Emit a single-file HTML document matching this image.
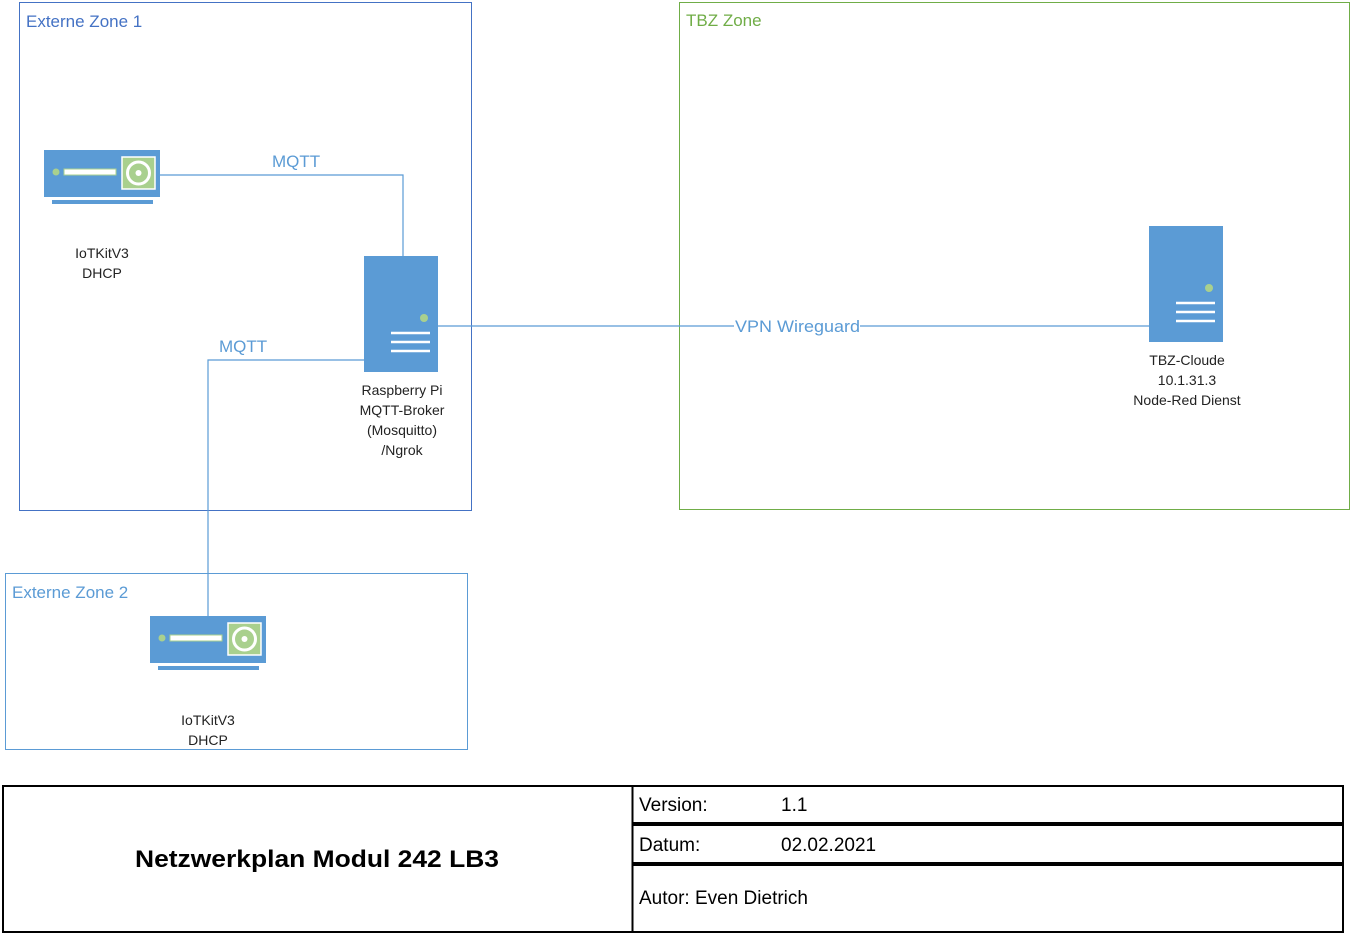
<!DOCTYPE html>
<html><head><meta charset="utf-8"><style>
body{margin:0;background:#fff;}
svg text{font-family:"Liberation Sans",sans-serif;}
</style></head><body>
<svg width="1351" height="935" viewBox="0 0 1351 935" xmlns="http://www.w3.org/2000/svg">
<rect x="0" y="0" width="1351" height="935" fill="#fff"/>
<rect x="19.5" y="2.5" width="452" height="508" fill="none" stroke="#4472C4" stroke-width="1"/>
<text x="26" y="27" font-size="17" fill="#4472C4">Externe Zone 1</text>
<rect x="679.5" y="2.5" width="670" height="507" fill="none" stroke="#70AD47" stroke-width="1"/>
<text x="686" y="26" font-size="17" fill="#70AD47">TBZ Zone</text>
<rect x="5.5" y="573.5" width="462" height="176" fill="none" stroke="#5B9BD5" stroke-width="1"/>
<text x="12" y="598" font-size="17" fill="#5B9BD5">Externe Zone 2</text>
<g stroke="#5B9BD5" stroke-width="1.2" fill="none">
<polyline points="160,175 403,175 403,256"/>
<polyline points="364,360 208,360 208,616"/>
<line x1="438" y1="326" x2="1149" y2="326"/>
</g>
<rect x="734" y="316" width="126" height="20" fill="#fff"/>
<text x="735" y="332" font-size="17" fill="#5B9BD5" textLength="125" lengthAdjust="spacingAndGlyphs">VPN Wireguard</text>
<text x="272" y="167" font-size="17" fill="#5B9BD5">MQTT</text>
<text x="219" y="352" font-size="17" fill="#5B9BD5">MQTT</text>
<g>
<rect x="44" y="150" width="116" height="47" fill="#5B9BD5"/>
<rect x="52" y="200" width="101" height="4" fill="#5B9BD5"/>
<circle cx="56" cy="172" r="3.5" fill="#A9D08E"/>
<rect x="64" y="169" width="52" height="6" fill="#fff" stroke="#A9D08E" stroke-width="1"/>
<rect x="122" y="157" width="33" height="32" fill="#A9D08E" stroke="#fff" stroke-width="1.5"/>
<circle cx="138.5" cy="173" r="11" fill="none" stroke="#fff" stroke-width="3"/>
<circle cx="138.5" cy="173" r="3" fill="#fff"/>
</g>
<text x="102" y="258" font-size="14" fill="#222" text-anchor="middle">IoTKitV3</text>
<text x="102" y="278" font-size="14" fill="#222" text-anchor="middle">DHCP</text>
<g transform="translate(106,466)">
<rect x="44" y="150" width="116" height="47" fill="#5B9BD5"/>
<rect x="52" y="200" width="101" height="4" fill="#5B9BD5"/>
<circle cx="56" cy="172" r="3.5" fill="#A9D08E"/>
<rect x="64" y="169" width="52" height="6" fill="#fff" stroke="#A9D08E" stroke-width="1"/>
<rect x="122" y="157" width="33" height="32" fill="#A9D08E" stroke="#fff" stroke-width="1.5"/>
<circle cx="138.5" cy="173" r="11" fill="none" stroke="#fff" stroke-width="3"/>
<circle cx="138.5" cy="173" r="3" fill="#fff"/>
</g>
<text x="208" y="725" font-size="14" fill="#222" text-anchor="middle">IoTKitV3</text>
<text x="208" y="745" font-size="14" fill="#222" text-anchor="middle">DHCP</text>
<rect x="364" y="256" width="74" height="116" fill="#5B9BD5"/>
<circle cx="424" cy="318" r="4" fill="#A9D08E"/>
<g stroke="#fff" stroke-width="2.5"><line x1="391" y1="333" x2="430" y2="333"/><line x1="391" y1="342" x2="430" y2="342"/><line x1="391" y1="351" x2="430" y2="351"/></g>
<g font-size="14" fill="#222" text-anchor="middle">
<text x="402" y="395">Raspberry Pi</text>
<text x="402" y="415">MQTT-Broker</text>
<text x="402" y="435">(Mosquitto)</text>
<text x="402" y="455">/Ngrok</text>
</g>
<rect x="1149" y="226" width="74" height="116" fill="#5B9BD5"/>
<circle cx="1209" cy="288" r="4" fill="#A9D08E"/>
<g stroke="#fff" stroke-width="2.5"><line x1="1176" y1="303" x2="1215" y2="303"/><line x1="1176" y1="312" x2="1215" y2="312"/><line x1="1176" y1="321" x2="1215" y2="321"/></g>
<g font-size="14" fill="#222" text-anchor="middle">
<text x="1187" y="365">TBZ-Cloude</text>
<text x="1187" y="385">10.1.31.3</text>
<text x="1187" y="405">Node-Red Dienst</text>
</g>
<rect x="3" y="786" width="1340" height="146" fill="none" stroke="#000" stroke-width="2"/>
<line x1="632.5" y1="786" x2="632.5" y2="932" stroke="#000" stroke-width="2"/>
<line x1="632" y1="824" x2="1343" y2="824" stroke="#000" stroke-width="4"/>
<line x1="632" y1="864" x2="1343" y2="864" stroke="#000" stroke-width="4"/>
<text x="135" y="867" font-size="24" font-weight="bold" fill="#000" textLength="364" lengthAdjust="spacingAndGlyphs">Netzwerkplan Modul 242 LB3</text>
<g font-size="19" fill="#000">
<text x="639" y="811">Version:</text><text x="781" y="811">1.1</text>
<text x="639" y="851">Datum:</text><text x="781" y="851">02.02.2021</text>
<text x="639" y="904">Autor:  Even Dietrich</text>
</g>
</svg>
</body></html>
